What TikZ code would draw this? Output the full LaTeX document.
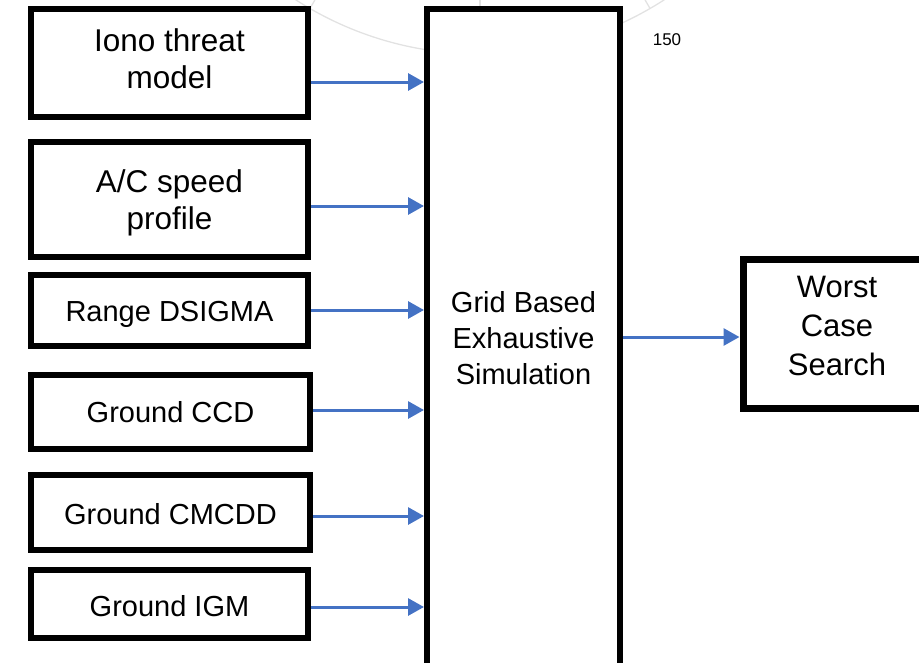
\documentclass[tikz,border=0pt]{standalone}
\usepackage{fontspec}
\setmainfont{Liberation Sans}
\usetikzlibrary{arrows.meta}
\definecolor{arrowblue}{RGB}{68,114,196}
\definecolor{faint}{RGB}{226,226,226}
\begin{document}
\begin{tikzpicture}[x=1pt,y=-1pt,
  box/.style={draw=black, line width=6pt, fill=white, inner sep=0pt, align=center},
  txt/.style={inner sep=0pt, align=center},
  bigfont/.style={font=\fontsize{31.5}{37}\selectfont},
  midfont/.style={font=\fontsize{29}{36}\selectfont},
  arr/.style={draw=arrowblue, line width=3pt, -{Triangle[length=16pt,width=17pt]}},
  bgline/.style={draw=faint, line width=1.3pt}
]
\useasboundingbox (0,0) rectangle (919,662);
\clip (0,0) rectangle (919,662);
% faint background remnants
\coordinate (bgc) at (480,-286);
\draw[bgline] (bgc) circle (340pt);
\draw[bgline] (bgc) -- +(-60:340pt);
\draw[bgline] (bgc) -- +(-90:340pt);
\draw[bgline] (bgc) -- +(-120:340pt);
% main boxes
\node[box, midfont, minimum width=193pt, minimum height=658pt] (grid) at (523.5,338) {Grid Based\\Exhaustive\\Simulation};
\node[box, line width=7pt, minimum width=187pt, minimum height=149pt] (worst) at (836.5,333.5) {};
\node[txt, font=\fontsize{31}{39}\selectfont] (worsttxt) at (837,326) {Worst\\Case\\Search};
% input boxes
\node[box, minimum width=277pt, minimum height=108pt,
  label={[txt, bigfont, yshift=4pt]center:Iono threat\\model}] (iono) at (169.5,63) {};
\node[box, minimum width=277pt, minimum height=115pt,
  label={[txt, bigfont, yshift=-3.5pt]center:A/C speed\\profile}] (speed) at (169.5,199.5) {};
\node[box, minimum width=277pt, minimum height=71pt,
  label={[txt, midfont, yshift=-3.5pt]center:Range DSIGMA}] (range) at (169.5,310.5) {};
\node[box, midfont, minimum width=279pt, minimum height=74pt] (ccd) at (170.5,412) {Ground CCD};
\node[box, minimum width=279pt, minimum height=75pt,
  label={[txt, midfont, yshift=-2pt]center:Ground CMCDD}] (cmcdd) at (170.5,512.5) {};
\node[box, minimum width=277pt, minimum height=68pt,
  label={[txt, midfont, yshift=-2pt]center:Ground IGM}] (igm) at (169.5,604) {};
\node[txt, font=\fontsize{17}{20}\selectfont] (num) at (667,40) {150};
% arrows
\draw[arr] (iono.east |- 0,82) -- (grid.west |- 0,82);
\draw[arr] (speed.east |- 0,206) -- (grid.west |- 0,206);
\draw[arr] (range.east |- 0,310) -- (grid.west |- 0,310);
\draw[arr] (ccd.east |- 0,410) -- (grid.west |- 0,410);
\draw[arr] (cmcdd.east |- 0,516) -- (grid.west |- 0,516);
\draw[arr] (igm.east |- 0,607) -- (grid.west |- 0,607);
\draw[arr] (grid.east |- 0,337) -- (worst.west |- 0,337);
\end{tikzpicture}
\end{document}
